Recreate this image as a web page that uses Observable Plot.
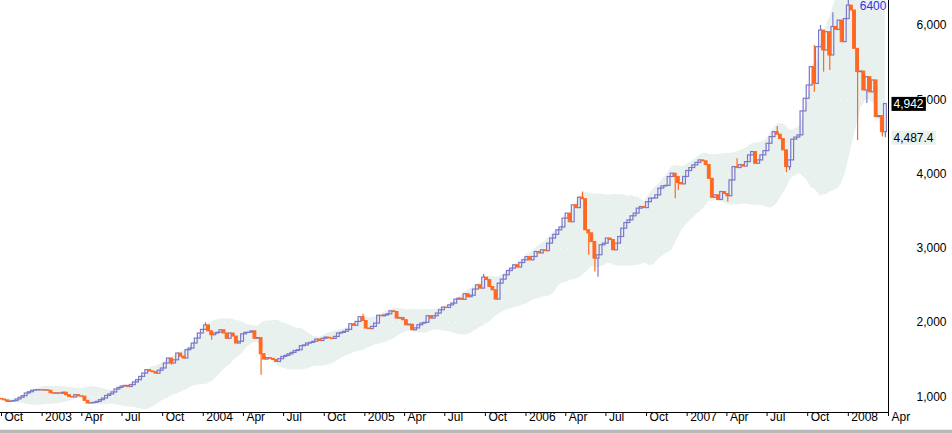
<!DOCTYPE html>
<html><head><meta charset="utf-8">
<script src="https://cdn.jsdelivr.net/npm/d3@7"></script>
<script src="https://cdn.jsdelivr.net/npm/@observablehq/plot@0.6"></script>
<style>
body{margin:0;background:#fff;font-family:"Liberation Sans",Arial,sans-serif;}
#chart svg{display:block}
#frame{height:3px;background:#b9b9b9;border-top:1px solid #ededed;}
</style></head><body>
<div id="chart"></div><div id="frame"></div>
<script>
// ---- data (weekly bars, first week starting 2002-10-01) ----
const startWeek = "2002-10-01";
const firstOpen = 970;
const closes = [
  962, 950, 930, 935, 940, 962, 985, 1007, 1043, 1060,
  1080, 1085, 1088, 1083, 1086, 1080, 1047, 1040, 1045, 1040,
  1054, 1020, 997, 990, 1020, 1005, 1000, 944, 908, 912,
  918, 930, 953, 975, 1010, 1030, 1057, 1097, 1118, 1137,
  1145, 1130, 1155, 1191, 1222, 1266, 1312, 1357, 1340, 1330,
  1310, 1350, 1380, 1447, 1514, 1447, 1490, 1581, 1540, 1514,
  1626, 1648, 1716, 1783, 1851, 1900, 1960, 1880, 1828, 1851,
  1862, 1895, 1851, 1780, 1851, 1810, 1716, 1740, 1840, 1860,
  1862, 1880, 1780, 1790, 1572, 1500, 1520, 1510, 1495, 1468,
  1505, 1535, 1550, 1570, 1590, 1615, 1626,
  1680, 1690, 1716, 1725, 1740, 1770, 1750, 1780, 1796, 1785,
  1778, 1805, 1851, 1860, 1875, 1900, 1976, 1955, 2007, 2070,
  2020, 1918, 1910, 1940, 1985, 2090, 2083, 2095, 2110, 2150,
  2140, 2052, 2060, 2030, 1962, 1970, 1895, 1920, 1962, 1985,
  1995, 2085, 2052, 2083, 2120, 2164, 2200, 2195,
  2230, 2254, 2308, 2320, 2305, 2380, 2340, 2360, 2443, 2500,
  2456, 2604, 2570, 2478, 2433, 2308, 2523, 2577, 2635, 2693,
  2725, 2770, 2740, 2800, 2837, 2880, 2837, 2882, 2949, 2930,
  2972, 2960, 3062, 3130, 3180, 3241, 3280, 3399, 3466, 3350,
  3578, 3540, 3680, 3660, 3241, 3200, 3083, 2860, 2905, 3040,
  3062, 3130, 3110,
  2972, 3062, 3151, 3263, 3339, 3375, 3430, 3466, 3533, 3555,
  3540, 3620, 3668, 3670, 3712, 3803, 3833, 3840, 3959, 4004,
  3960, 3878, 3860, 3960, 4040, 4080, 4116, 4150, 4183, 4170,
  4120, 3935, 3680, 3712, 3650, 3757, 3730, 3700, 3913, 4093,
  4080, 4120, 4100, 4160, 4250, 4295, 4138, 4183, 4250, 4308,
  4407, 4497, 4564, 4530, 4470, 4318, 4093, 4183, 4462, 4490,
  4520, 4843, 5013, 5192, 5439, 5214, 5708, 5932, 5664, 5910,
  5596, 5980, 5940, 6066, 5776, 6087, 6268, 6202, 5686, 5372,
  5380, 5125, 5304, 5100, 5260, 4766, 4780, 4564, 4942
];
// notable wick extremes: [week index, value]
const wickHighs = [[66,1995],[117,2110],[156,2645],[188,3757],[238,4205],[251,4641],[263,5730],[265,6000],[269,6171],[274,6400]];
const wickLows = [[55,1424],[68,1760],[84,1290],[190,2905],[192,2680],[193,2608],[218,3668],[219,3779],[235,3622],[254,4018],[255,4047],[263,5102],[266,5372],[268,5394],[277,4451],[280,4948],[285,4497]];
const lastLow = 4487.4;
const yTicks = [1000, 2000, 3000, 4000, 5000, 6000];
const xTickDates = ["2002-10-01","2003-01-01","2003-04-01","2003-07-01","2003-10-01",
  "2004-01-01","2004-04-01","2004-07-01","2004-10-01","2005-01-01","2005-04-01","2005-07-01","2005-10-01",
  "2006-01-01","2006-04-01","2006-07-01","2006-10-01","2007-01-01","2007-04-01","2007-07-01","2007-10-01",
  "2008-01-01","2008-04-01"];
const xDomainDates = ["2002-09-28T18:00:00Z", "2008-04-01T00:00:00Z"];
const yDomain = [787, 6337];
const bandPeriod = 20, bandWidth = 2;

// ---- styles ----
const PURPLE = "#7d77c9", ORANGE = "#ff6821", BAND = "#e9f1ef", BLUE = "#2f2ff0";

// ---- build table ----
const DAY = 864e5;
const t0 = new Date(startWeek + "T00:00:00Z").getTime();
const hiMap = new Map(wickHighs), loMap = new Map(wickLows);
const table = closes.map((c, i) => {
  const open = i === 0 ? firstOpen : closes[i - 1];
  const date = new Date(t0 + i * 7 * DAY);
  const top = Math.max(open, c), bot = Math.min(open, c);
  const high = Math.max(top, hiMap.has(i) ? hiMap.get(i) : top);
  let low = Math.min(bot, loMap.has(i) ? loMap.get(i) : bot);
  if (i === closes.length - 1) low = Math.min(low, lastLow);
  const w = closes.slice(Math.max(0, i - bandPeriod + 1), i + 1);
  const m = d3.mean(w);
  const sd = Math.sqrt(d3.mean(w, v => (v - m) ** 2));
  return {date, x1: new Date(date.getTime() - 3.2 * DAY), x2: new Date(date.getTime() + 3.2 * DAY),
    open, close: c, high, low, top, bot, up: c >= open, upper: m + bandWidth * sd, lower: m - bandWidth * sd};
});
const upBars = table.filter(d => d.up), downBars = table.filter(d => !d.up);
const xTicks = xTickDates.map(s => new Date(s + "T00:00:00Z"));
const xDomain = xDomainDates.map(s => new Date(s));
const last = table[table.length - 1];
const maxHigh = d3.max(table, d => d.high);
const fmtTick = d => d.getUTCMonth() === 0 ? String(d.getUTCFullYear()) : d3.utcFormat("%b")(d);
const closeText = d3.format(",")(last.close);
const lowText = d3.format(",.1f")(lastLow);

const chart = Plot.plot({
  width: 952, height: 429,
  marginLeft: 0, marginRight: 64, marginTop: 0, marginBottom: 17,
  x: {type: "utc", domain: xDomain, axis: null, label: null},
  y: {domain: yDomain, axis: null, label: null},
  style: {fontSize: "12px", fontFamily: "'Liberation Sans', Arial, sans-serif", background: "#fff", overflow: "visible", color: "#000"},
  marks: [
    Plot.areaY(table, {x: "date", y1: "lower", y2: "upper", fill: BAND}),
    Plot.ruleY(yTicks, {stroke: "#fff", strokeDasharray: "1,6"}),
    Plot.ruleX(upBars, {x: "date", y1: "top", y2: "high", stroke: PURPLE, strokeWidth: 1.2}),
    Plot.ruleX(upBars, {x: "date", y1: "low", y2: "bot", stroke: PURPLE, strokeWidth: 1.2}),
    Plot.ruleX(downBars, {x: "date", y1: "low", y2: "high", stroke: ORANGE, strokeWidth: 1.2}),
    Plot.rect(upBars, {x1: "x1", x2: "x2", y1: "open", y2: "close", fill: "none", stroke: PURPLE, strokeWidth: 1.2}),
    Plot.rect(downBars, {x1: "x1", x2: "x2", y1: "open", y2: "close", fill: ORANGE, stroke: ORANGE, strokeWidth: 1}),
    Plot.ruleY([yDomain[0]], {stroke: "#000"}),
    Plot.ruleX([xDomain[1]], {stroke: "#000"}),
    Plot.axisX({ticks: xTicks, tickSize: 4, tickFormat: () => "", label: null, stroke: "#000"}),
    Plot.text(xTicks, {x: d => d, frameAnchor: "bottom", textAnchor: "start", lineAnchor: "top", dx: 3, dy: 0, text: fmtTick, fill: "#000"}),
    Plot.text(yTicks, {y: d => d, frameAnchor: "right", textAnchor: "end", dx: 58, text: d3.format(","), fill: "#000"}),
    Plot.text([maxHigh], {x: () => last.date, frameAnchor: "top", text: d => String(d), textAnchor: "end", lineAnchor: "top", dx: 1, dy: 1, fill: BLUE}),
    Plot.text([last.close], {y: d => d, frameAnchor: "right", textAnchor: "start", dx: 5, text: () => closeText, fill: "#fff"}),
    Plot.text([lastLow], {y: d => d, frameAnchor: "right", textAnchor: "start", dx: 5, text: () => lowText, fill: "#000"})
  ]
});
document.getElementById("chart").append(chart);

// label backgrounds
for (const [str, bg] of [[closeText, "#000"], [lowText, BAND]]) {
  chart.querySelectorAll("text").forEach(t => {
    if (t.textContent !== str) return;
    const b = t.getBBox();
    const r = document.createElementNS("http://www.w3.org/2000/svg", "rect");
    r.setAttribute("x", b.x - 2); r.setAttribute("y", b.y);
    r.setAttribute("width", b.width + 4); r.setAttribute("height", b.height);
    r.setAttribute("fill", bg);
    const tr = t.getAttribute("transform");
    if (tr) r.setAttribute("transform", tr);
    t.parentNode.insertBefore(r, t);
  });
}
</script>
</body></html>
